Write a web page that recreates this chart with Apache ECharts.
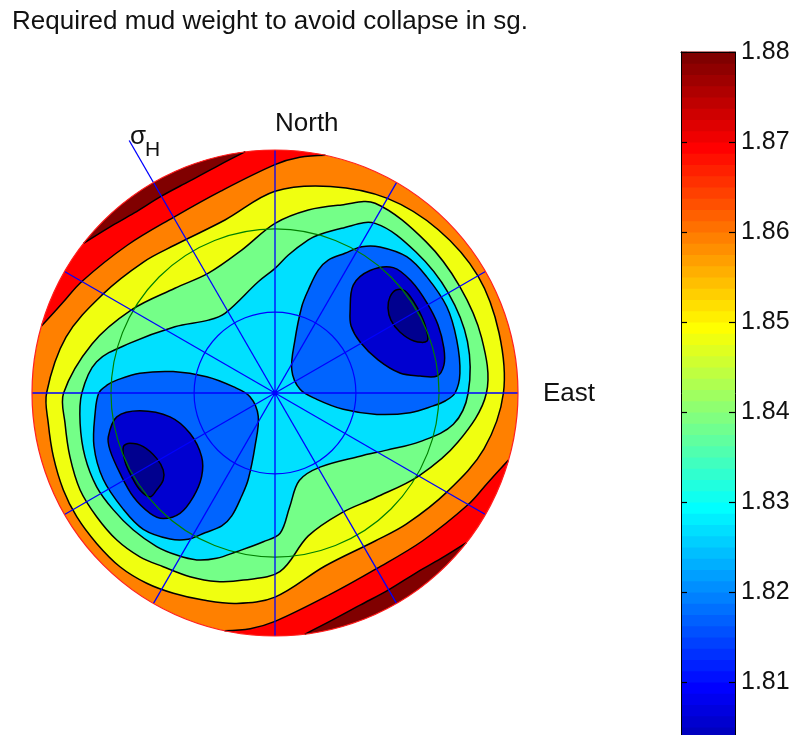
<!DOCTYPE html>
<html>
<head>
<meta charset="utf-8">
<script src="https://cdn.jsdelivr.net/npm/echarts@6/dist/echarts.min.js"></script>
<style>html,body{margin:0;padding:0;background:#fff}#chart{width:797px;height:735px}</style>
</head>
<body>
<div id="chart"></div>
<script>
// ---------------- data ----------------
const titleText = 'Required mud weight to avoid collapse in sg.';
const cbRange = [1.80, 1.88];
const cbTicks = [1.80, 1.81, 1.82, 1.83, 1.84, 1.85, 1.86, 1.87, 1.88];
const cbRows = 64;

// stereonet frame (normalised radius 1 = outer circle, x = East, y = North)
const spokeAzimuths = [0, 30, 60, 90, 120, 150, 180, 210, 240, 270, 300, 330];
const ringRadii = [0.333, 0.675];
const sigmaHAzimuth = 330;
const sigmaHLength = 1.2;

// closed contour lines
const c186 = [[-0.94,0],[-0.86,0.23],[-0.707,0.408],[-0.54,0.54],[-0.412,0.609],[-0.206,0.712],[0,0.83],[0.228,0.85],[0.4625,0.801],[0.672,0.672],[0.835,0.482],[0.922,0.247],
              [0.94,0],[0.86,-0.23],[0.707,-0.408],[0.54,-0.54],[0.412,-0.609],[0.206,-0.712],[0,-0.84],[-0.158,-0.866],[-0.295,-0.852],[-0.418,-0.824],[-0.528,-0.783],[-0.638,-0.715],[-0.734,-0.619],[-0.816,-0.509],[-0.871,-0.399],[-0.912,-0.262],[-0.933,-0.125]];
const c185 = [[-0.87,0],[-0.753,0.202],[-0.591,0.342],[-0.412,0.431],[-0.274,0.493],[-0.137,0.588],[0,0.698],[0.137,0.753],[0.274,0.774],[0.412,0.781],[0.622,0.622],[0.76,0.439],[0.85,0.228],
              [0.87,0],[0.753,-0.202],[0.591,-0.342],[0.412,-0.431],[0.274,-0.493],[0.137,-0.588],[0.02,-0.735],[-0.13,-0.77],[-0.24,-0.776],[-0.35,-0.756],[-0.46,-0.715],[-0.556,-0.674],[-0.651,-0.605],[-0.734,-0.509],[-0.802,-0.399],[-0.844,-0.262],[-0.864,-0.125]];
const c184 = [[-0.795,0],[-0.734,0.129],[-0.597,0.205],[-0.412,0.273],[-0.274,0.3],[-0.206,0.328],[-0.069,0.458],[0,0.513],[0.055,0.568],[0.137,0.63],[0.178,0.65],[0.274,0.678],[0.412,0.698],[0.58,0.58],[0.713,0.412],[0.792,0.212],
              [0.795,0],[0.734,-0.129],[0.597,-0.2],[0.46,-0.235],[0.35,-0.26],[0.185,-0.305],[0.1,-0.36],[0.06,-0.47],[0.021,-0.577],[-0.048,-0.612],[-0.158,-0.653],[-0.24,-0.68],[-0.322,-0.687],[-0.405,-0.667],[-0.487,-0.632],[-0.583,-0.564],[-0.665,-0.481],[-0.734,-0.386],[-0.782,-0.262],[-0.802,-0.125]];

// open contour lines (ends on the outer circle)
const c187NW = [[-0.961,0.276],[-0.874,0.371],[-0.795,0.459],[-0.608,0.608],[-0.4175,0.723],[-0.223,0.831],[0,0.94],[0.102,0.97],[0.208,0.978]];
const c187SE = [[0.961,-0.276],[0.874,-0.371],[0.795,-0.459],[0.608,-0.608],[0.4175,-0.723],[0.223,-0.831],[0,-0.94],[-0.102,-0.97],[-0.208,-0.978]];
const c188NW = [[-0.788,0.616],[-0.682,0.682],[-0.579,0.741],[-0.4675,0.81],[-0.352,0.872],[-0.233,0.936],[-0.122,0.993]];
const c188SE = [[0.788,-0.616],[0.682,-0.682],[0.579,-0.741],[0.4675,-0.81],[0.352,-0.872],[0.233,-0.936],[0.122,-0.993]];

// closed contours around the two minima
const c183NE = [[0.069,0.095],[0.082,0.218],[0.11,0.355],[0.137,0.424],[0.178,0.506],[0.219,0.547],[0.288,0.575],[0.357,0.602],[0.432,0.601],[0.542,0.561],[0.624,0.479],[0.707,0.355],[0.748,0.218],[0.761,0.081],[0.741,0],[0.7,-0.033],[0.651,-0.053],[0.556,-0.081],[0.419,-0.088],[0.281,-0.067],[0.172,-0.026],[0.103,0.015]];
const c183SW = [[-0.069,-0.095],[-0.082,-0.218],[-0.11,-0.355],[-0.137,-0.424],[-0.178,-0.506],[-0.219,-0.547],[-0.288,-0.575],[-0.357,-0.602],[-0.432,-0.601],[-0.542,-0.561],[-0.624,-0.479],[-0.707,-0.355],[-0.745,-0.218],[-0.74,-0.081],[-0.725,0],[-0.69,0.033],[-0.651,0.053],[-0.556,0.081],[-0.419,0.088],[-0.281,0.067],[-0.172,0.026],[-0.103,-0.015]];
const c182NE = [[0.309,0.335],[0.322,0.444],[0.391,0.504],[0.487,0.516],[0.564,0.457],[0.626,0.37],[0.671,0.28],[0.695,0.185],[0.695,0.115],[0.667,0.07],[0.597,0.07],[0.514,0.082],[0.424,0.136],[0.35,0.21],[0.313,0.276]];
const c182SW = [[-0.686,-0.18],[-0.651,-0.098],[-0.556,-0.073],[-0.432,-0.098],[-0.35,-0.166],[-0.302,-0.262],[-0.302,-0.344],[-0.336,-0.427],[-0.391,-0.495],[-0.46,-0.516],[-0.514,-0.495],[-0.583,-0.427],[-0.638,-0.33],[-0.679,-0.235]];
const c181NE = [[0.465,0.35],[0.473,0.395],[0.498,0.424],[0.535,0.42],[0.572,0.374],[0.601,0.321],[0.621,0.267],[0.626,0.214],[0.572,0.214],[0.514,0.251],[0.477,0.3]];
const c181SW = [[-0.624,-0.221],[-0.597,-0.207],[-0.542,-0.221],[-0.487,-0.269],[-0.46,-0.317],[-0.46,-0.358],[-0.487,-0.399],[-0.514,-0.427],[-0.556,-0.399],[-0.59,-0.344],[-0.617,-0.283]];

// ---------------- styles ----------------
const FONT = "'Liberation Sans', Arial, Helvetica, sans-serif";
const BAND = {
  b180: '#00008f', b181: '#0000d0', b182: '#0064ff', b183: '#00e0ff',
  b184: '#74ff88', b185: '#f0ff10', b186: '#ff8000', b187: '#ff0000', b188: '#800000'
};
const LINE_W = 1.5;
const SMOOTH = 0.35;

function jetRow(k) { // MATLAB jet(64), k = 1..64
  const u = i => (i < 1 || i > 47) ? 0 : (i <= 16 ? i / 16 : (i <= 31 ? 1 : (48 - i) / 16));
  const r = u(k - 24), g = u(k - 8), b = u(k + 8);
  return 'rgb(' + Math.round(r * 255) + ',' + Math.round(g * 255) + ',' + Math.round(b * 255) + ')';
}

function renderStereonet(params, api) {
  const C = p => api.coord(p);
  const o = C([0, 0]);
  const unit = C([1, 0])[0] - o[0];
  const ch = [];
  const polar = (az, r) => C([r * Math.sin(az * Math.PI / 180), r * Math.cos(az * Math.PI / 180)]);

  function arcBack(pts) {
    const a = pts[pts.length - 1], b = pts[0];
    const a1 = Math.atan2(a[1], a[0]), a0 = Math.atan2(b[1], b[0]);
    let d = a0 - a1;
    while (d > Math.PI) d -= 2 * Math.PI;
    while (d < -Math.PI) d += 2 * Math.PI;
    const out = [], n = 40;
    for (let k = 1; k < n; k++) { const t = a1 + d * k / n; out.push(C([Math.cos(t), Math.sin(t)])); }
    return out;
  }
  function crescentFill(pts, color) {
    ch.push({ type: 'polygon', shape: { points: pts.map(C).concat(arcBack(pts)), smooth: SMOOTH },
      style: { fill: color } });
  }
  function openLine(pts) {
    ch.push({ type: 'polyline', shape: { points: pts.map(C), smooth: SMOOTH },
      style: { fill: 'none', stroke: '#000', lineWidth: LINE_W } });
  }
  function region(pts, color) {
    ch.push({ type: 'polygon', shape: { points: pts.map(C), smooth: SMOOTH },
      style: { fill: color, stroke: '#000', lineWidth: LINE_W } });
  }

  ch.push({ type: 'circle', shape: { cx: o[0], cy: o[1], r: unit }, style: { fill: BAND.b186 } });
  crescentFill(c187NW, BAND.b187); crescentFill(c187SE, BAND.b187);
  crescentFill(c188NW, BAND.b188); crescentFill(c188SE, BAND.b188);
  openLine(c187NW); openLine(c187SE); openLine(c188NW); openLine(c188SE);
  region(c186, BAND.b185);
  region(c185, BAND.b184);
  region(c184, BAND.b183);
  region(c183NE, BAND.b182); region(c183SW, BAND.b182);
  region(c182NE, BAND.b181); region(c182SW, BAND.b181);
  region(c181NE, BAND.b180); region(c181SW, BAND.b180);

  // frame
  ch.push({ type: 'circle', shape: { cx: o[0], cy: o[1], r: unit * ringRadii[1] },
    style: { fill: 'none', stroke: '#008000', lineWidth: 1.2 } });
  ch.push({ type: 'circle', shape: { cx: o[0], cy: o[1], r: unit * ringRadii[0] },
    style: { fill: 'none', stroke: '#0000ff', lineWidth: 1.2 } });
  spokeAzimuths.forEach(az => {
    const e = polar(az, az === sigmaHAzimuth ? sigmaHLength : 1);
    ch.push({ type: 'line', shape: { x1: o[0], y1: o[1], x2: e[0], y2: e[1] },
      style: { stroke: '#0000ff', lineWidth: 1.3 } });
  });
  ch.push({ type: 'circle', shape: { cx: o[0], cy: o[1], r: unit },
    style: { fill: 'none', stroke: '#ff2020', lineWidth: 1.2 } });
  ch.push({ type: 'circle', shape: { cx: o[0], cy: o[1], r: 2.5 }, style: { fill: '#0000ff' } });

  // labels
  const txt = (s, p, size) => ({ type: 'text', style: { text: s, x: p[0], y: p[1], fontSize: size,
    fontFamily: FONT, fill: '#111', align: 'left', verticalAlign: 'middle' } });
  ch.push(txt('North', C([0, 1.107]), 26));
  ch.push(txt('East', C([1.103, -0.005]), 26));
  ch.push(txt('σ', C([-0.597, 1.055]), 26));
  ch.push(txt('H', C([-0.535, 1.0]), 21));

  return { type: 'group', children: ch };
}

const cbCells = [];
for (let k = 0; k < cbRows; k++) cbCells.push([0.5, cbRange[0] + (k + 0.5) * (cbRange[1] - cbRange[0]) / cbRows, k]);

function renderColorbar(params, api) {
  const k = api.value(2);
  const step = (cbRange[1] - cbRange[0]) / cbRows;
  const v0 = cbRange[0] + k * step;
  const p0 = api.coord([0, v0]);
  const p1 = api.coord([1, v0 + step]);
  return { type: 'rect', shape: { x: p0[0], y: p1[1] - 0.4, width: p1[0] - p0[0], height: p0[1] - p1[1] + 0.8 },
    style: { fill: jetRow(k + 1) } };
}

const cbAxisCommon = {
  gridIndex: 1, type: 'value', min: cbRange[0], max: cbRange[1], interval: 0.01, z: 10,
  axisLine: { show: true, onZero: false, lineStyle: { color: '#000', width: 1 } },
  axisTick: { show: true, inside: true, length: 6, lineStyle: { color: '#000', width: 1.2 } },
  splitLine: { show: false }
};

const chart = echarts.init(document.getElementById('chart'), null, { renderer: 'canvas' });
chart.setOption({
  animation: false,
  backgroundColor: '#ffffff',
  title: { text: titleText, left: 12, top: 9, padding: 0,
    textStyle: { fontSize: 26, fontWeight: 'normal', fontFamily: FONT, color: '#111' } },
  grid: [
    { left: 32, top: 150, width: 486, height: 486, show: false, containLabel: false, outerBoundsMode: 'none' },
    { left: 681, top: 52, width: 54, height: 720, show: false, containLabel: false, outerBoundsMode: 'none' }
  ],
  xAxis: [
    { gridIndex: 0, type: 'value', min: -1, max: 1, show: false },
    { gridIndex: 1, type: 'value', min: 0, max: 1, position: 'top', z: 10,
      axisLine: { show: true, onZero: false, lineStyle: { color: '#000', width: 1 } },
      axisTick: { show: false }, axisLabel: { show: false }, splitLine: { show: false } }
  ],
  yAxis: [
    { gridIndex: 0, type: 'value', min: -1, max: 1, show: false },
    Object.assign({}, cbAxisCommon, { position: 'right',
      axisLabel: { show: true, margin: 6, fontSize: 25, fontFamily: FONT, color: '#111',
        showMinLabel: true, showMaxLabel: true,
        formatter: v => { const t = cbTicks.find(x => Math.abs(x - v) < 1e-6); return (t === undefined ? v : t).toFixed(2); } } }),
    Object.assign({}, cbAxisCommon, { position: 'left', axisLabel: { show: false } })
  ],
  series: [
    { type: 'custom', xAxisIndex: 0, yAxisIndex: 0, data: [[0, 0]], renderItem: renderStereonet,
      clip: false, silent: true, z: 2 },
    { type: 'custom', xAxisIndex: 1, yAxisIndex: 1, data: cbCells, renderItem: renderColorbar,
      clip: false, silent: true, z: 2 }
  ]
});
</script>
</body>
</html>
